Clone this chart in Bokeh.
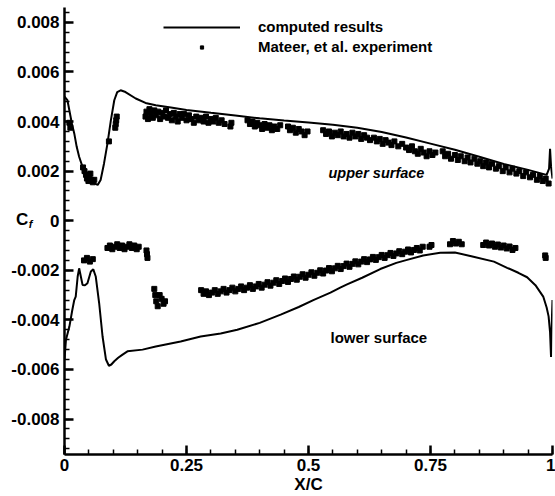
from bokeh.plotting import figure
from bokeh.models import Range1d, FixedTicker, Label, Legend, LegendItem, LinearAxis
from bokeh.embed import file_html
from bokeh.resources import INLINE

FONT = "Liberation Sans"

# computed results (upper surface)
upper_x = [0.0, 0.006, 0.015, 0.020, 0.025, 0.030, 0.037, 0.047, 0.057, 0.068, 0.074, 0.081,
           0.088, 0.095, 0.102, 0.108, 0.115, 0.125, 0.146, 0.166, 0.187, 0.218, 0.25, 0.30,
           0.35, 0.40, 0.45, 0.50, 0.55, 0.60, 0.65, 0.70, 0.75, 0.80, 0.85, 0.90, 0.95,
           0.988, 0.993, 0.995, 0.997, 1.0]
upper_cf = [0.0050, 0.00486, 0.00393, 0.00352, 0.00298, 0.00258, 0.00217, 0.00177, 0.00157,
            0.00144, 0.00164, 0.00231, 0.00311, 0.00405, 0.00486, 0.00519, 0.00526, 0.00519,
            0.00493, 0.00475, 0.00466, 0.00457, 0.00447, 0.00435, 0.00424, 0.00413, 0.00404,
            0.00396, 0.00387, 0.00375, 0.00358, 0.00336, 0.00311, 0.00286, 0.00258, 0.00229,
            0.00205, 0.00185, 0.0021, 0.0029, 0.0022, 0.0017]

# computed results (lower surface)
lower_x = [0.0, 0.003, 0.010, 0.016, 0.020, 0.023, 0.027, 0.030, 0.034, 0.037, 0.042, 0.047,
           0.054, 0.059, 0.064, 0.071, 0.078, 0.085, 0.091, 0.096, 0.102, 0.110, 0.119, 0.129,
           0.16, 0.187, 0.238, 0.279, 0.32, 0.354, 0.40, 0.443, 0.48, 0.511, 0.545, 0.565,
           0.579, 0.61, 0.647, 0.68, 0.702, 0.735, 0.770, 0.80, 0.838, 0.88, 0.907, 0.93,
           0.948, 0.965, 0.981, 0.988, 0.992, 0.995, 0.997, 0.998, 0.999, 1.0]
lower_cf = [-0.0056, -0.0048, -0.00427, -0.0036, -0.0032, -0.00306, -0.00225, -0.00192,
            -0.0023, -0.00259, -0.0026, -0.00252, -0.00205, -0.00196, -0.00225, -0.00332,
            -0.00467, -0.0056, -0.00585, -0.0058, -0.00567, -0.00553, -0.0054, -0.00527,
            -0.0052, -0.00507, -0.00487, -0.00467, -0.00455, -0.0044, -0.00412, -0.00379,
            -0.00348, -0.00319, -0.0029, -0.0027, -0.00257, -0.0023, -0.00195, -0.0017,
            -0.00158, -0.0014, -0.00129, -0.00128, -0.00145, -0.00165, -0.0019, -0.0021,
            -0.00228, -0.0026, -0.00306, -0.0035, -0.00386, -0.0045, -0.0055, -0.0046,
            -0.0038, -0.0032]

# Mateer, et al. experiment (upper surface)
exp_upper_x = [0.010, 0.012, 0.038, 0.041, 0.044, 0.046, 0.049, 0.051, 0.053, 0.055, 0.058, 0.061,
               0.091, 0.104, 0.105, 0.106, 0.107,
               0.166, 0.168, 0.171, 0.174, 0.177, 0.181, 0.184, 0.188, 0.192, 0.196, 0.200,
               0.204, 0.208, 0.212, 0.216, 0.220, 0.224, 0.228, 0.232, 0.236, 0.240, 0.245,
               0.250, 0.255, 0.260, 0.265, 0.270, 0.275, 0.280, 0.285, 0.290, 0.295, 0.300,
               0.305, 0.310, 0.316, 0.322, 0.328, 0.340, 0.342, 0.375, 0.380, 0.385, 0.390,
               0.395, 0.400, 0.405, 0.410, 0.415, 0.420, 0.425, 0.430, 0.436, 0.442, 0.458,
               0.462, 0.468, 0.474, 0.480, 0.486, 0.492, 0.498, 0.530, 0.536, 0.542, 0.548,
               0.554, 0.560, 0.566, 0.572, 0.578, 0.584, 0.590, 0.596, 0.602, 0.608, 0.614,
               0.620, 0.626, 0.634, 0.640, 0.646, 0.652, 0.658, 0.664, 0.670, 0.676, 0.684,
               0.692, 0.700, 0.706, 0.712, 0.718, 0.724, 0.730, 0.736, 0.742, 0.748, 0.754,
               0.760, 0.775, 0.780, 0.786, 0.792, 0.800, 0.806, 0.812, 0.820, 0.826, 0.832,
               0.840, 0.846, 0.852, 0.858, 0.864, 0.870, 0.876, 0.884, 0.890, 0.898, 0.904,
               0.912, 0.918, 0.926, 0.932, 0.940, 0.946, 0.954, 0.960, 0.968, 0.974, 0.980,
               0.986, 0.992]
exp_upper_cf = [0.00395, 0.00375, 0.00215, 0.00200, 0.00185, 0.00170, 0.00160, 0.00175, 0.00190,
                0.00165, 0.00155, 0.00165,
                0.00320, 0.00375, 0.00390, 0.00405, 0.00420,
                0.00420, 0.00440, 0.00410, 0.00450, 0.00430, 0.00415, 0.00445, 0.00425, 0.00440,
                0.00410, 0.00435, 0.00420, 0.00445, 0.00415, 0.00430, 0.00405, 0.00435, 0.00420,
                0.00400, 0.00430, 0.00415, 0.00430, 0.00405, 0.00425, 0.00410, 0.00395, 0.00420,
                0.00405, 0.00415, 0.00400, 0.00420, 0.00395, 0.00410, 0.00400, 0.00415, 0.00395,
                0.00405, 0.00390, 0.00380, 0.00395, 0.00405, 0.00390, 0.00400, 0.00380, 0.00395,
                0.00385, 0.00370, 0.00390, 0.00375, 0.00385, 0.00365, 0.00380, 0.00370, 0.00385,
                0.00380, 0.00365, 0.00375, 0.00355, 0.00370, 0.00360, 0.00345, 0.00360, 0.00365,
                0.00350, 0.00360, 0.00340, 0.00355, 0.00345, 0.00360, 0.00340, 0.00350, 0.00335,
                0.00355, 0.00340, 0.00350, 0.00330, 0.00345, 0.00335, 0.00325, 0.00335, 0.00320,
                0.00330, 0.00310, 0.00325, 0.00315, 0.00305, 0.00320, 0.00300, 0.00310, 0.00295,
                0.00285, 0.00300, 0.00280, 0.00270, 0.00290, 0.00275, 0.00260, 0.00280, 0.00265,
                0.00275, 0.00280, 0.00260, 0.00270, 0.00250, 0.00265, 0.00245, 0.00260, 0.00240,
                0.00255, 0.00235, 0.00250, 0.00230, 0.00240, 0.00220, 0.00235, 0.00215, 0.00230,
                0.00210, 0.00220, 0.00200, 0.00215, 0.00195, 0.00210, 0.00190, 0.00200, 0.00180,
                0.00195, 0.00175, 0.00185, 0.00165, 0.00180, 0.00160, 0.00170, 0.00150]

# Mateer, et al. experiment (lower surface)
exp_lower_x = [0.040, 0.046, 0.052, 0.058,
               0.088, 0.093, 0.098, 0.103, 0.108, 0.113, 0.118, 0.123, 0.128, 0.133, 0.138,
               0.143, 0.148, 0.152, 0.168, 0.169, 0.170,
               0.184, 0.186, 0.188, 0.191, 0.195, 0.199, 0.203, 0.206,
               0.280, 0.285, 0.290, 0.296, 0.302, 0.308, 0.314, 0.320, 0.326, 0.332, 0.338,
               0.344, 0.350, 0.356, 0.362, 0.368, 0.374, 0.380, 0.386, 0.392, 0.398, 0.404,
               0.410, 0.416, 0.422, 0.428, 0.434, 0.440, 0.446, 0.452, 0.458, 0.464, 0.470,
               0.476, 0.482, 0.488, 0.494, 0.500, 0.506, 0.512, 0.518, 0.524, 0.530, 0.536,
               0.542, 0.548, 0.554, 0.560, 0.566, 0.572, 0.578, 0.584, 0.590, 0.596, 0.602,
               0.608, 0.614, 0.620, 0.626, 0.632, 0.638, 0.644, 0.650, 0.656, 0.662, 0.668,
               0.674, 0.680, 0.686, 0.692, 0.698, 0.704, 0.710, 0.716, 0.722, 0.728, 0.734,
               0.748, 0.752, 0.790, 0.796, 0.802, 0.808, 0.814, 0.858, 0.864, 0.870, 0.876,
               0.882, 0.888, 0.894, 0.900, 0.906, 0.912, 0.918, 0.924, 0.985, 0.986]
exp_lower_cf = [-0.00160, -0.00150, -0.00165, -0.00155,
                -0.00110, -0.00100, -0.00115, -0.00105, -0.00095, -0.00110, -0.00100, -0.00115,
                -0.00105, -0.00095, -0.00110, -0.00100, -0.00115, -0.00105, -0.00120, -0.00135,
                -0.00150,
                -0.00275, -0.00300, -0.00325, -0.00345, -0.00300, -0.00315, -0.00335, -0.00325,
                -0.00280, -0.00295, -0.00285, -0.00300, -0.00290, -0.00280, -0.00295, -0.00285,
                -0.00275, -0.00290, -0.00280, -0.00270, -0.00285, -0.00275, -0.00265, -0.00280,
                -0.00270, -0.00260, -0.00275, -0.00265, -0.00255, -0.00270, -0.00258, -0.00248,
                -0.00262, -0.00250, -0.00240, -0.00255, -0.00243, -0.00233, -0.00247, -0.00235,
                -0.00225, -0.00238, -0.00226, -0.00216, -0.00230, -0.00218, -0.00208, -0.00222,
                -0.00210, -0.00200, -0.00213, -0.00201, -0.00191, -0.00204, -0.00192, -0.00182,
                -0.00195, -0.00183, -0.00173, -0.00186, -0.00174, -0.00164, -0.00176, -0.00165,
                -0.00155, -0.00167, -0.00156, -0.00146, -0.00158, -0.00147, -0.00138, -0.00150,
                -0.00139, -0.00130, -0.00142, -0.00132, -0.00123, -0.00135, -0.00125, -0.00116,
                -0.00128, -0.00118, -0.00110, -0.00120, -0.00105, -0.00105, -0.00098, -0.00095,
                -0.00082, -0.00092, -0.00085, -0.00095, -0.00098, -0.00088, -0.00100, -0.00092,
                -0.00105, -0.00096, -0.00108, -0.00100, -0.00112, -0.00104, -0.00118, -0.00110,
                -0.00140, -0.00150]

y_ticks = [-0.008, -0.006, -0.004, -0.002, 0.0, 0.002, 0.004, 0.006, 0.008]
y_tick_labels = ["-0.008", "-0.006", "-0.004", "-0.002", "0", "0.002", "0.004", "0.006", "0.008"]
x_ticks = [0.0, 0.25, 0.5, 0.75, 1.0]
x_tick_labels = ["0", "0.25", "0.5", "0.75", "1"]
y_minor = [round(-0.0092 + 0.0004 * i, 5) for i in range(45)]
x_minor = [round(0.05 * i, 2) for i in range(21)]

p = figure(width=555, height=496, output_backend="svg", toolbar_location=None,
           x_range=Range1d(0, 1.0), y_range=Range1d(-0.00943, 0.0086),
           min_border_left=64, min_border_right=3, min_border_top=7, min_border_bottom=41)
p.xgrid.visible = False
p.ygrid.visible = False
p.outline_line_color = None
p.background_fill_color = "white"
p.border_fill_color = "white"

line_u = p.line(upper_x, upper_cf, line_color="black", line_width=2)
p.line(lower_x, lower_cf, line_color="black", line_width=2)
sc_u = p.scatter(exp_upper_x, exp_upper_cf, marker="square", size=5, color="black")
p.scatter(exp_lower_x, exp_lower_cf, marker="square", size=5, color="black")

p.xaxis.ticker = FixedTicker(ticks=x_ticks, minor_ticks=x_minor)
p.yaxis.ticker = FixedTicker(ticks=y_ticks, minor_ticks=y_minor)
p.xaxis.major_label_overrides = dict(zip(x_ticks, x_tick_labels))
p.yaxis.major_label_overrides = dict(zip(y_ticks, y_tick_labels))

for ax in (p.xaxis[0], p.yaxis[0]):
    ax.axis_line_width = 2.5
    ax.axis_line_color = "black"
    ax.major_tick_line_width = 2.5
    ax.major_tick_line_color = "black"
    ax.minor_tick_line_width = 1.5
    ax.minor_tick_line_color = "black"
    ax.major_tick_in = 9
    ax.major_tick_out = 0
    ax.minor_tick_in = 5
    ax.minor_tick_out = 0
    ax.major_label_text_font = FONT
    ax.major_label_text_font_style = "bold"
    ax.major_label_text_font_size = "17px"
    ax.major_label_text_color = "black"

p.yaxis.major_label_standoff = 5
p.xaxis.major_label_standoff = 4
p.xaxis.axis_label = "X/C"
p.xaxis.axis_label_standoff = 1
p.xaxis.axis_label_text_font = FONT
p.xaxis.axis_label_text_font_style = "bold"
p.xaxis.axis_label_text_font_size = "17px"
p.xaxis.axis_label_text_color = "black"

# y-axis title "C" (horizontal), overlapping the tick-label column
yax = p.yaxis[0]
yax.axis_label = "C\n"
yax.axis_label_text_font = FONT
yax.axis_label_text_font_style = "bold"
yax.axis_label_text_font_size = "17px"
yax.axis_label_text_color = "black"
yax.axis_label_standoff = -20
yax.axis_label_orientation = "horizontal"

# subscript "f": a bare extra left axis that only carries a title
sub_ax = LinearAxis(ticker=FixedTicker(ticks=[]), axis_line_color=None,
                    major_tick_line_color=None, minor_tick_line_color=None,
                    major_label_text_font_size="0px", axis_label="f\n",
                    axis_label_text_font=FONT, axis_label_text_font_style="bold italic",
                    axis_label_text_font_size="11px", axis_label_text_color="black",
                    axis_label_standoff=-19, axis_label_orientation="horizontal")
p.add_layout(sub_ax, "left")

p.add_layout(Label(x=0.541, y=0.00192, text="upper surface", text_font=FONT,
                   text_font_style="bold italic", text_font_size="14.5px", text_color="black",
                   text_align="left", text_baseline="middle"))
p.add_layout(Label(x=0.545, y=-0.00472, text="lower surface", text_font=FONT,
                   text_font_style="bold", text_font_size="15px", text_color="black",
                   text_align="left", text_baseline="middle"))

legend = Legend(items=[LegendItem(label="computed results", renderers=[line_u]),
                       LegendItem(label="Mateer, et al. experiment", renderers=[sc_u])],
                location=(99, 399), glyph_width=77, glyph_height=8, label_height=16,
                label_standoff=18, spacing=3, padding=0, margin=0,
                border_line_color=None, background_fill_alpha=0,
                label_text_font=FONT, label_text_font_style="bold",
                label_text_font_size="15px", label_text_color="black")
p.add_layout(legend)

open("out.html", "w").write(file_html(p, INLINE))
